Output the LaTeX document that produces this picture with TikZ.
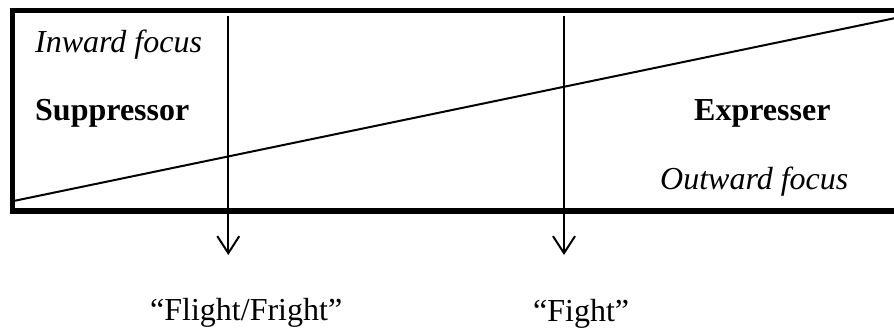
\documentclass[tikz,border=0pt]{standalone}
\usepackage{fontspec}
\setmainfont{Liberation Serif}
\usetikzlibrary{arrows.meta}
\begin{document}
\begin{tikzpicture}[x=1pt,y=-1pt,
  frame/.style={line width=5.5pt, line join=miter, line cap=butt},
  thin/.style={line width=2pt},
  downarrow/.style={line width=2pt, -{Straight Barb[length=17pt,width=22pt,line width=2pt]}},
  lbl/.style={anchor=base west, inner sep=0pt, font=\fontsize{32}{38}\selectfont},
  lblc/.style={anchor=base, inner sep=0pt, font=\fontsize{32}{38}\selectfont}]
\useasboundingbox (0,0) rectangle (894,333);
% frame (open on the right)
\coordinate (tr) at (894,10.5);
\coordinate (tl) at (12.7,10.5);
\coordinate (bl) at (12.7,211);
\coordinate (br) at (894,211);
\draw[frame] (tr) -- (tl) -- (bl) -- (br);
% diagonal
\coordinate (d1) at (15,200.7);
\coordinate (d2) at (894,18.3);
\draw[thin] (d1) -- (d2);
% arrows
\coordinate (a1s) at (228.3,16);
\coordinate (a1e) at (228.3,255);
\coordinate (a2s) at (564,16);
\coordinate (a2e) at (564,255);
\draw[downarrow] (a1s) -- (a1e);
\draw[downarrow] (a2s) -- (a2e);
% texts
\node[lbl] (inward) at (35,52) {\itshape Inward focus};
\node[lbl] (supp) at (35,120) {\bfseries Suppressor};
\node[lbl] (expr) at (694,120.5) {\bfseries Expresser};
\node[lbl] (outward) at (660,189.5) {\itshape Outward focus};
\node[lbl] (flight) at (150,320) {“Flight/Fright”};
\node[lbl] (fight) at (533,321) {“Fight”};
\end{tikzpicture}
\end{document}
